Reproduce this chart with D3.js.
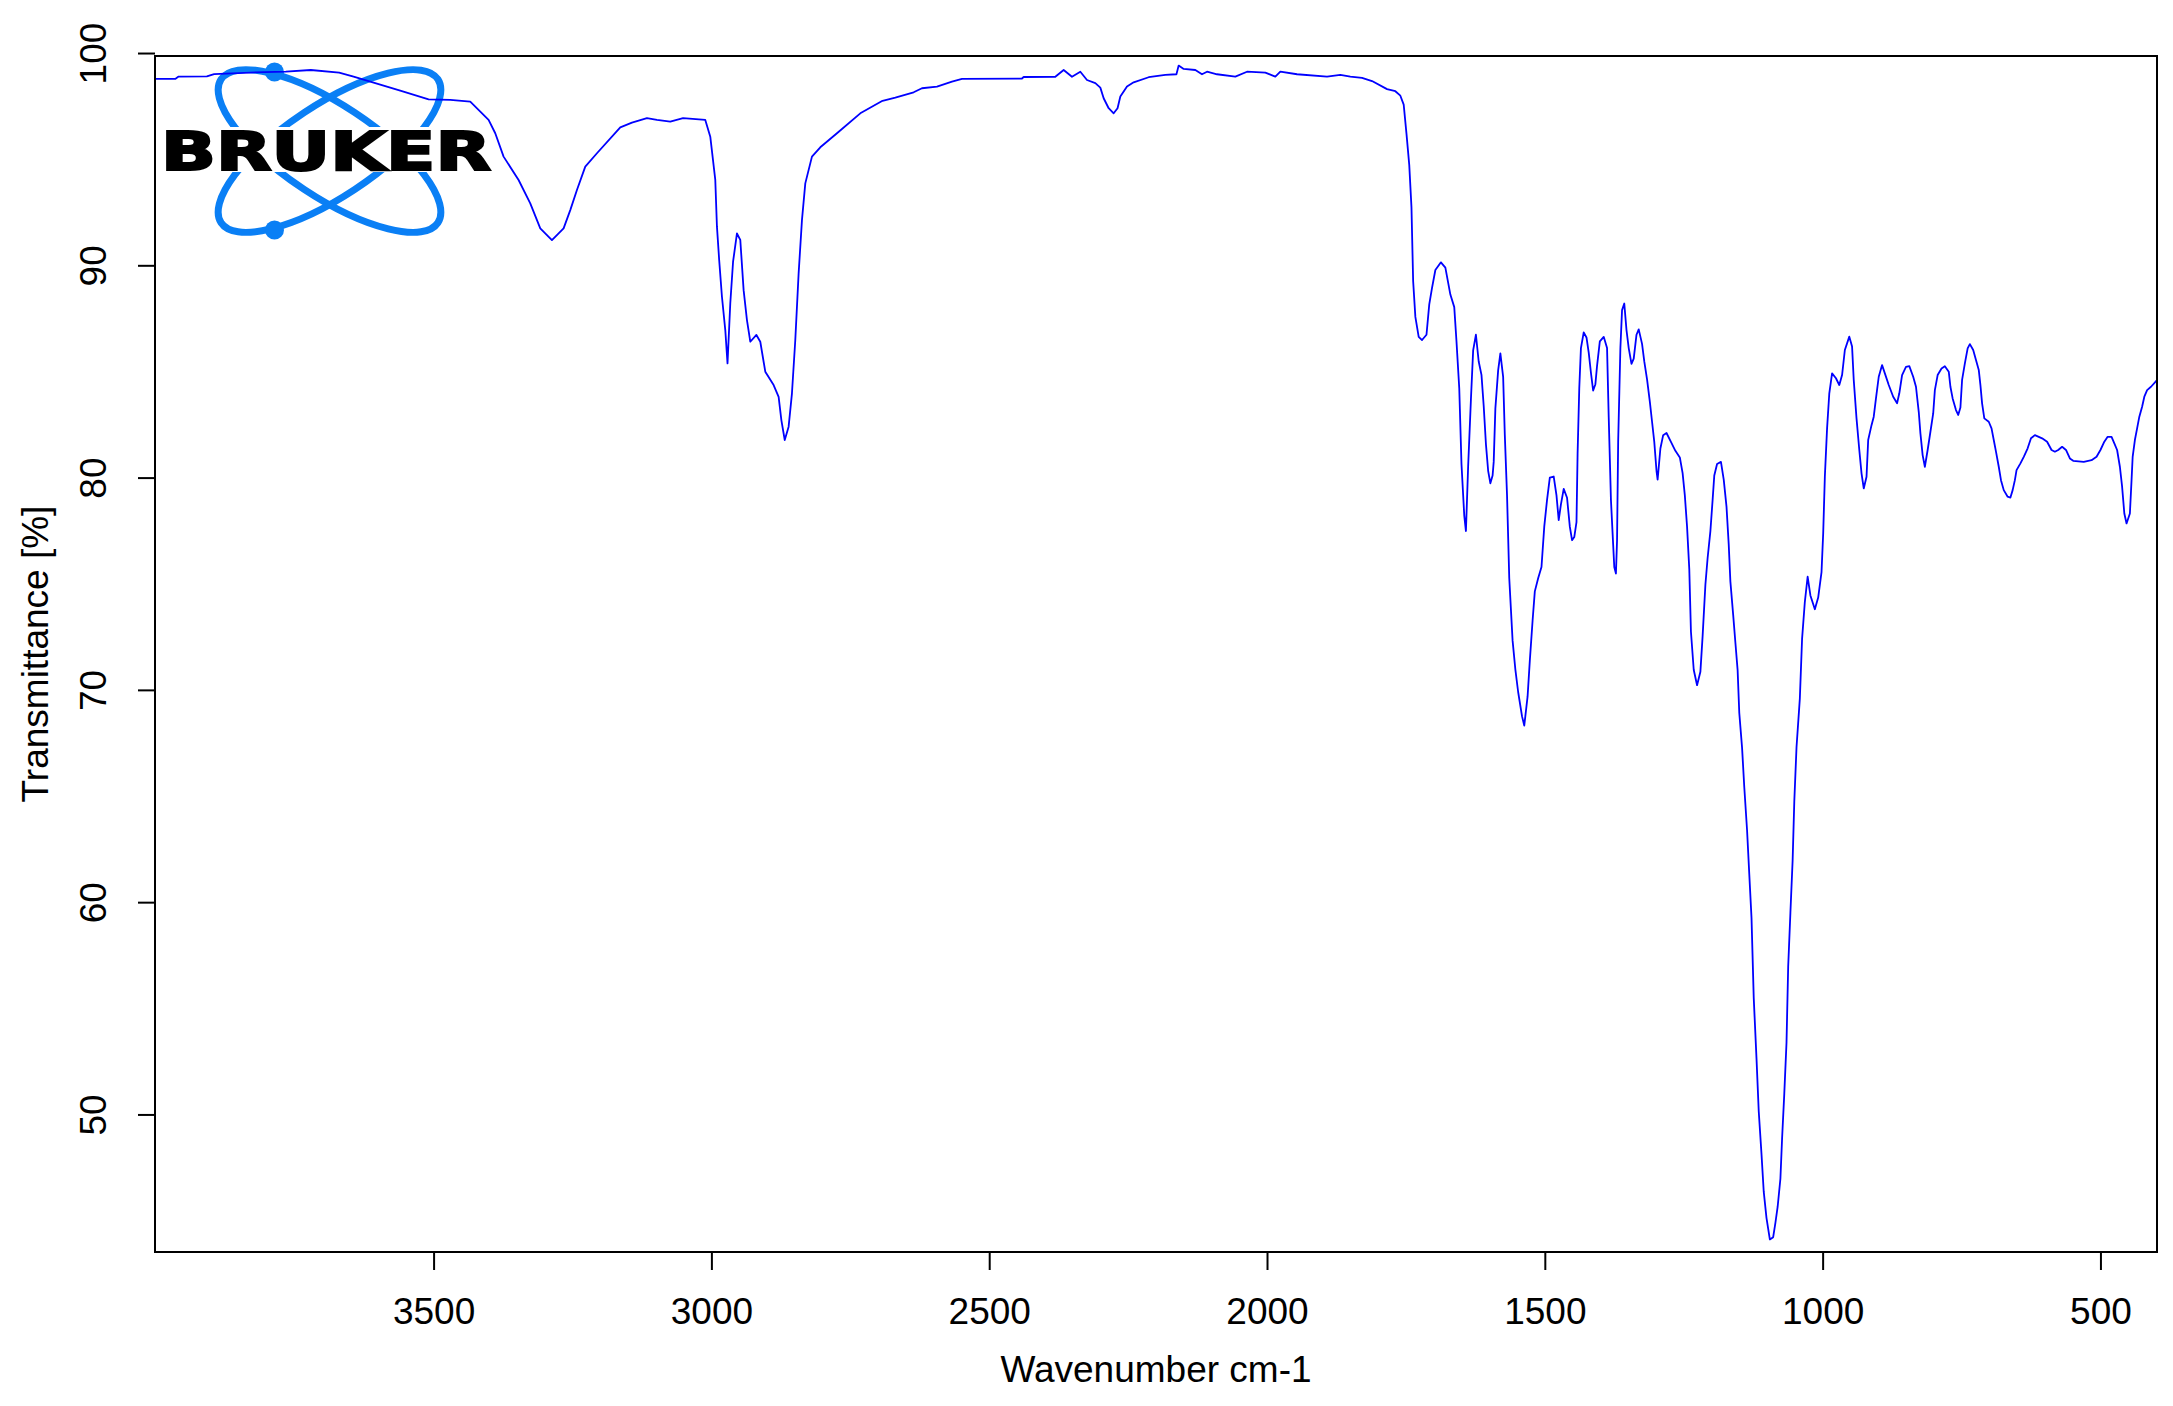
<html>
<head>
<meta charset="utf-8">
<script src="https://d3js.org/d3.v7.min.js"></script>
<style>
  body { margin: 0; background: #fff; }
  #chart { display: block; }
  .axis text { font-family: "Liberation Sans", Arial, sans-serif; font-size: 37px; fill: #000; }
  .axis line { stroke: #000; stroke-width: 2px; }
  .title { font-family: "Liberation Sans", Arial, sans-serif; font-size: 37px; fill: #000; }
  .line { fill: none; stroke: #0000ff; stroke-width: 1.8px; stroke-linejoin: round; }
</style>
</head>
<body>
<svg id="chart"></svg>
<script>
// FT-IR spectrum (wavenumber in cm-1, transmittance in %)
var wavenumber = [
  4001, 3965, 3959, 3908, 3895, 3830, 3766, 3721, 3670, 3644,
  3605, 3560, 3509, 3470, 3434, 3401, 3389, 3374, 3347, 3326,
  3308, 3287, 3266, 3254, 3242, 3227, 3206, 3164, 3143, 3116,
  3098, 3074, 3051, 3011, 3002, 2993, 2990, 2986, 2981, 2975,
  2971, 2966, 2961, 2954, 2948, 2942, 2936, 2930, 2919, 2912,
  2903, 2888, 2879, 2874, 2868, 2861, 2855, 2849, 2843, 2837,
  2831, 2819, 2804, 2774, 2732, 2692, 2669, 2636, 2621, 2594,
  2567, 2549, 2441, 2438, 2381, 2366, 2351, 2336, 2324, 2309,
  2300, 2294, 2285, 2276, 2269, 2264, 2252, 2240, 2213, 2183,
  2163, 2159, 2150, 2129, 2117, 2108, 2090, 2057, 2036, 2003,
  1985, 1976, 1946, 1892, 1868, 1850, 1829, 1811, 1784, 1769,
  1760, 1754, 1749, 1744, 1740, 1737, 1733, 1727, 1721, 1713,
  1708, 1703, 1697, 1687, 1679, 1670, 1663, 1659, 1654, 1650,
  1645, 1642, 1638, 1633, 1629, 1624, 1619, 1614, 1610, 1606,
  1602, 1598, 1594, 1592, 1589, 1584, 1580, 1575, 1572, 1568,
  1564, 1558, 1553, 1548, 1541, 1537, 1531, 1527, 1522, 1518,
  1512, 1506, 1501, 1496, 1491, 1484, 1479, 1475, 1471, 1466,
  1460, 1455, 1451, 1447, 1443, 1441, 1438, 1435, 1430, 1425,
  1421, 1417, 1413, 1409, 1406, 1401, 1394, 1388, 1385, 1381,
  1377, 1375, 1372, 1370, 1368, 1364, 1361, 1357, 1353, 1349,
  1344, 1340, 1335, 1331, 1325, 1321, 1316, 1311, 1307, 1303,
  1299, 1297, 1292, 1287, 1281, 1273, 1265, 1257, 1252, 1248,
  1244, 1240, 1237, 1232, 1226, 1220, 1216, 1211, 1207, 1202,
  1198, 1195, 1190, 1183, 1178, 1173, 1169, 1166, 1161, 1157,
  1153, 1150, 1145, 1141, 1136, 1132, 1128, 1124, 1119, 1115,
  1110, 1106, 1101, 1095, 1089, 1085, 1081, 1076, 1073, 1069,
  1065, 1062, 1058, 1054, 1051, 1047, 1041, 1037, 1032, 1027,
  1022, 1014, 1008, 1002, 999, 996, 992, 988, 983, 976,
  970, 965, 960, 952, 947, 944, 939, 934, 930, 926,
  921, 918, 912, 908, 904, 899, 893, 888, 881, 873,
  866, 862, 857, 850, 844, 837, 832, 827, 824, 820,
  816, 811, 806, 801, 798, 793, 786, 780, 773, 770,
  766, 760, 756, 752, 749, 744, 739, 735, 729, 724,
  719, 716, 713, 709, 701, 696, 692, 688, 683, 679,
  674, 667, 662, 658, 654, 651, 644, 638, 631, 625,
  618, 605, 596, 588, 582, 576, 569, 562, 555, 549,
  530, 516, 507, 500, 493, 487, 480, 475, 470, 465,
  461, 457, 453, 447, 444, 442, 438, 434, 430, 425,
  421, 416, 409, 401, 398
];

var transmittance = [
  98.78, 98.78, 98.89, 98.9, 99.01, 99.08, 99.12, 99.2, 99.08, 98.89,
  98.58, 98.23, 97.82, 97.79, 97.71, 96.85, 96.22, 95.12, 94.02, 92.92,
  91.74, 91.19, 91.74, 92.6, 93.55, 94.65, 95.28, 96.5, 96.72, 96.93,
  96.85, 96.77, 96.93, 96.85, 96.06, 94.02, 91.82, 90.25, 88.52, 86.95,
  85.38, 88.21, 90.17, 91.5, 91.2, 88.83, 87.42, 86.4, 86.72, 86.4,
  84.99, 84.36, 83.8, 82.7, 81.77, 82.4, 83.97, 86.48, 89.62, 92.13,
  93.86, 95.12, 95.56, 96.22, 97.16, 97.75, 97.9, 98.15, 98.34, 98.42,
  98.65, 98.78, 98.8, 98.87, 98.88, 99.2, 98.88, 99.12, 98.73, 98.58,
  98.37, 97.87, 97.4, 97.16, 97.4, 97.95, 98.42, 98.62, 98.86, 98.97,
  99.0, 99.41, 99.25, 99.2, 99.0, 99.12, 99.0, 98.89, 99.12, 99.08,
  98.89, 99.12, 99.0, 98.89, 98.97, 98.89, 98.83, 98.68, 98.3, 98.2,
  97.99, 97.57, 96.2, 94.73, 92.73, 89.26, 87.57, 86.63, 86.48, 86.73,
  88.16, 88.94, 89.78, 90.14, 89.89, 88.62, 88.03, 86.42, 84.21, 80.64,
  78.21, 77.48, 80.53, 83.68, 85.99, 86.73, 85.47, 84.84, 83.37, 81.58,
  80.32, 79.73, 80.1, 80.74, 83.26, 85.05, 85.85, 84.74, 82.0, 79.16,
  75.26, 72.32, 70.95, 69.9, 68.75, 68.32, 69.69, 71.38, 73.27, 74.64,
  75.26, 75.79, 77.69, 78.95, 80.0, 80.05, 79.16, 78.0, 78.74, 79.47,
  79.05, 77.69, 77.05, 77.2, 77.9, 81.15, 84.21, 86.1, 86.84, 86.6,
  85.89, 84.94, 84.1, 84.4, 85.26, 86.42, 86.63, 86.1, 82.84, 78.95,
  76.84, 75.79, 75.48, 77.05, 81.68, 86.1, 87.89, 88.2, 86.95, 86.1,
  85.36, 85.6, 86.73, 86.98, 86.3, 85.47, 84.63, 83.58, 82.63, 81.68,
  80.32, 79.9, 81.37, 82.0, 82.1, 81.68, 81.26, 80.95, 80.21, 79.16,
  77.69, 75.69, 72.74, 70.95, 70.22, 70.85, 72.53, 74.95, 76.21, 77.48,
  78.95, 80.1, 80.64, 80.74, 79.9, 78.63, 76.84, 75.1, 73.53, 72.22,
  70.93, 68.91, 67.28, 65.41, 63.39, 61.31, 59.26, 55.49, 52.63, 50.15,
  48.12, 46.36, 45.12, 44.11, 44.22, 44.89, 45.64, 46.97, 48.84, 50.98,
  53.39, 56.96, 59.5, 61.96, 64.74, 67.3, 69.6, 72.4, 74.15, 75.33,
  74.45, 73.8, 74.35, 75.55, 77.37, 80.04, 82.32, 83.97, 84.91, 84.68,
  84.36, 84.83, 86.01, 86.64, 86.17, 84.6, 82.79, 81.3, 80.2, 79.49,
  80.04, 81.77, 82.47, 82.87, 83.73, 84.75, 85.3, 84.91, 84.36, 83.81,
  83.5, 83.97, 84.83, 85.22, 85.25, 84.75, 84.28, 83.1, 82.08, 81.06,
  80.51, 81.3, 82.16, 83.02, 84.12, 84.83, 85.14, 85.25, 84.99, 84.28,
  83.73, 83.18, 82.95, 83.3, 84.6, 85.38, 86.09, 86.29, 86.01, 85.54,
  85.07, 84.36, 83.5, 82.79, 82.63, 82.32, 81.77, 81.22, 80.51, 79.88,
  79.41, 79.1, 79.06, 79.41, 79.88, 80.35, 80.67, 80.98, 81.38, 81.85,
  82.0, 81.85, 81.69, 81.3, 81.22, 81.3, 81.45, 81.3, 80.9, 80.79,
  80.74, 80.82, 80.98, 81.3, 81.69, 81.92, 81.92, 81.61, 81.3, 80.51,
  79.57, 78.31, 77.84, 78.31, 79.88, 80.98, 81.77, 82.32, 82.87, 83.34,
  83.81, 84.12, 84.28, 84.51, 84.6
];

var xTicks = [3500, 3000, 2500, 2000, 1500, 1000, 500];
var yTicks = [50, 60, 70, 80, 90, 100];

var width = 2173, height = 1406;
var plot = {left: 155, right: 2157, top: 56, bottom: 1252};

var svg = d3.select("#chart")
    .attr("width", width)
    .attr("height", height);

svg.append("rect")
    .attr("width", width)
    .attr("height", height)
    .attr("fill", "#fff");

// x runs high -> low like every IR plot
var x = d3.scaleLinear().domain([4001.4, 398.2]).range([plot.left, plot.right]);
var y = d3.scaleLinear().domain([43.52, 99.86]).range([plot.bottom, plot.top]);

var data = wavenumber.map((w, i) => ({w: w, t: transmittance[i]}));

// Bruker logo in the top-left corner
var logo = svg.append("g").attr("class", "logo");
var cx = 329.5, cy = 151;
[33.5, -33.5].forEach(a => {
  logo.append("ellipse")
      .attr("cx", cx).attr("cy", cy)
      .attr("rx", 130).attr("ry", 46)
      .attr("transform", "rotate(" + a + "," + cx + "," + cy + ")")
      .attr("fill", "none")
      .attr("stroke", "#0a7ff5")
      .attr("stroke-width", 7);
});
[72, 230].forEach(cyDot => {
  logo.append("circle")
      .attr("cx", 274.5).attr("cy", cyDot).attr("r", 9.5)
      .attr("fill", "#0a7ff5");
});
logo.append("rect")
    .attr("x", 159).attr("y", 127)
    .attr("width", 335).attr("height", 45)
    .attr("fill", "#fff");
logo.append("text")
    .attr("x", 161).attr("y", 170)
    .attr("textLength", 330)
    .attr("lengthAdjust", "spacingAndGlyphs")
    .style("font-family", "'DejaVu Sans', sans-serif")
    .style("font-weight", "bold")
    .style("font-size", "53px")
    .attr("fill", "#000")
    .attr("stroke", "#000")
    .attr("stroke-width", 2.2)
    .attr("stroke-linejoin", "miter")
    .text("BRUKER");

// axes
var xAxis = svg.append("g")
    .attr("class", "axis axis--x")
    .attr("transform", "translate(0," + plot.bottom + ")")
    .call(d3.axisBottom(x).tickValues(xTicks).tickSize(18).tickFormat(d3.format("d")));
xAxis.select(".domain").remove();
xAxis.selectAll("text").attr("y", 72).attr("dy", 0);

var yAxis = svg.append("g")
    .attr("class", "axis axis--y")
    .attr("transform", "translate(" + plot.left + ",0)")
    .call(d3.axisLeft(y).tickValues(yTicks).tickSize(17).tickFormat(d3.format("d")));
yAxis.select(".domain").remove();
yAxis.selectAll("text")
    .attr("x", null).attr("dy", null)
    .attr("text-anchor", "middle")
    .attr("transform", "translate(-49,0) rotate(-90)");

svg.append("text")
    .attr("class", "title")
    .attr("text-anchor", "middle")
    .attr("x", (plot.left + plot.right) / 2)
    .attr("y", 1382)
    .text("Wavenumber cm-1");

svg.append("text")
    .attr("class", "title")
    .attr("text-anchor", "middle")
    .attr("transform", "translate(48," + ((plot.top + plot.bottom) / 2) + ") rotate(-90)")
    .text("Transmittance [%]");

// the spectrum
var line = d3.line()
    .curve(d3.curveLinear)
    .x(d => x(d.w))
    .y(d => y(d.t));

svg.append("path")
    .datum(data)
    .attr("class", "line")
    .attr("d", line);

// plot frame
svg.append("rect")
    .attr("x", plot.left).attr("y", plot.top)
    .attr("width", plot.right - plot.left)
    .attr("height", plot.bottom - plot.top)
    .attr("fill", "none")
    .attr("stroke", "#000")
    .attr("stroke-width", 2);
</script>
</body>
</html>
